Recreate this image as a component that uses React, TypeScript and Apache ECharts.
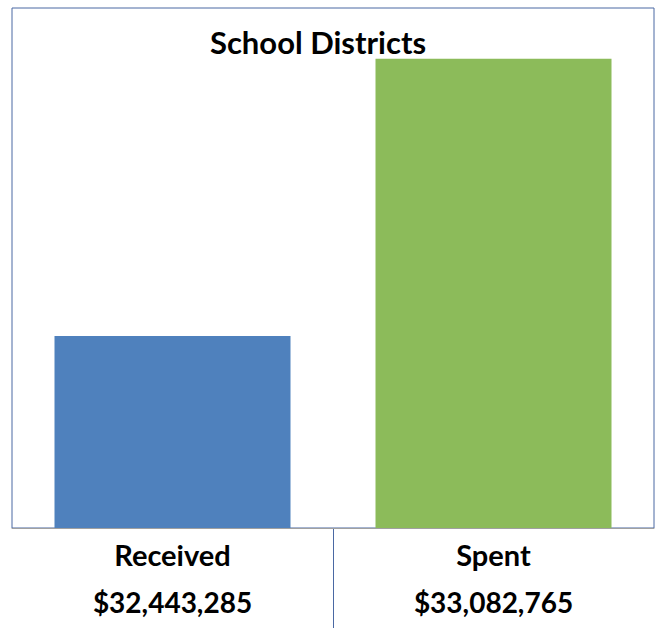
import React, { useEffect, useRef } from "react";
import * as echarts from "echarts";

const categories = ["Received", "Spent"];
const amounts = [32443285, 33082765];
const amountLabels = ["$32,443,285", "$33,082,765"];
const barColors = ["#4F81BD", "#8CBB5A"];
const titleText = "School Districts";

export default function App() {
  const ref = useRef<HTMLDivElement>(null);
  useEffect(() => {
    if (!ref.current) return;
    const chart = echarts.init(ref.current, null, { renderer: "svg" });
    const font = "Lato, 'Liberation Sans', sans-serif";
    chart.setOption({
      animation: false,
      backgroundColor: "#ffffff",
      title: {
        text: titleText,
        left: 313,
        top: 21,
        textAlign: "center",
        textStyle: { fontFamily: font, fontWeight: "bold", fontSize: 31, color: "#000" },
      },
      grid: {
        left: 12,
        right: 8,
        top: 8,
        bottom: 100,
        show: true,
        borderColor: "#4A68A3",
        borderWidth: 1,
        backgroundColor: "transparent",
      },
      xAxis: {
        type: "category",
        data: categories,
        axisLine: { show: true, lineStyle: { color: "#A0A0A0", width: 1 } },
        axisTick: { show: false },
        axisLabel: {
          margin: 3,
          interval: 0,
          formatter: (v: string, i: number) => `{a|${v}}\n{b|${amountLabels[i]}}`,
          rich: {
            a: { fontFamily: font, fontWeight: "bold", fontSize: 29, lineHeight: 47, color: "#000" },
            b: { fontFamily: font, fontWeight: "bold", fontSize: 28, lineHeight: 47, color: "#000" },
          },
        },
      },
      yAxis: {
        type: "value",
        min: 32000000,
        max: 33200000,
        show: false,
        splitLine: { show: false },
      },
      series: [
        {
          type: "bar",
          barWidth: 236,
          data: amounts.map((v, i) => ({ value: v, itemStyle: { color: barColors[i] } })),
        },
      ],
      graphic: [
        {
          type: "line",
          shape: { x1: 333.5, y1: 529, x2: 333.5, y2: 628 },
          style: { stroke: "#4A68A3", lineWidth: 1 },
        },
      ],
    });
    return () => chart.dispose();
  }, []);
  return (
    <div
      ref={ref}
      style={{ position: "fixed", left: 0, top: 0, width: 662, height: 628 }}
    />
  );
}
